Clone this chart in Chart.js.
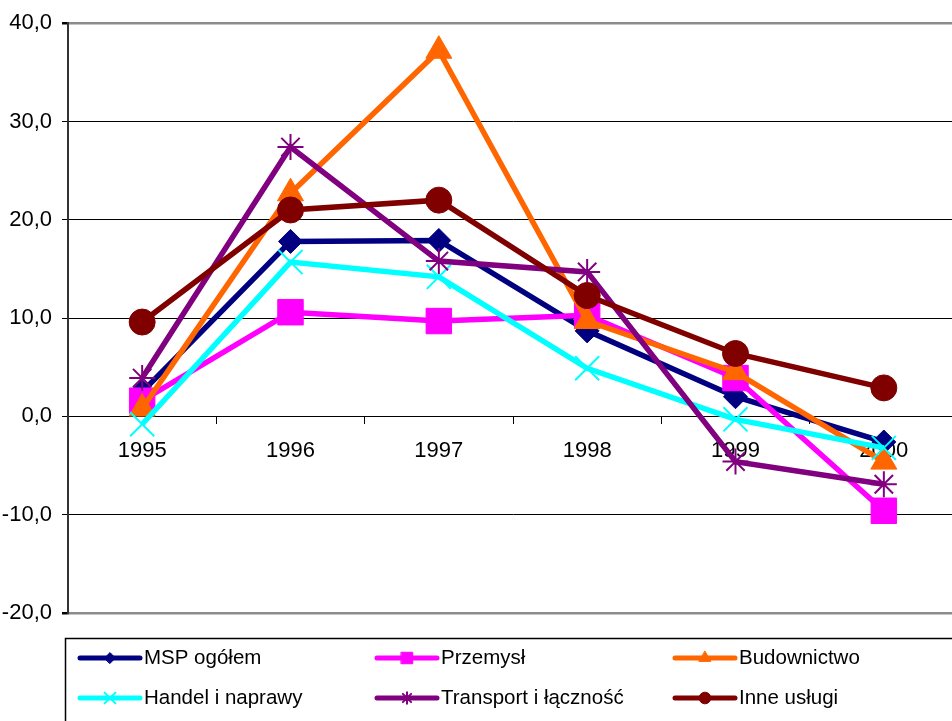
<!DOCTYPE html>
<html>
<head>
<meta charset="utf-8">
<script src="https://cdn.jsdelivr.net/npm/chart.js@4/dist/chart.umd.min.js"></script>
<style>
  html, body { margin: 0; padding: 0; background: #fff; overflow: hidden; }
  #wrap { width: 952px; height: 721px; overflow: hidden; }
</style>
</head>
<body>
<div id="wrap"><canvas id="chart" width="977" height="721"></canvas></div>
<script>
var years = ['1995', '1996', '1997', '1998', '1999', '2000'];
var yTicks = [-20, -10, 0, 10, 20, 30, 40];

var msp = [2.5, 17.8, 17.9, 8.7, 2.0, -2.6];
var przemysl = [1.6, 10.6, 9.7, 10.3, 3.9, -9.6];
var budownictwo = [0.8, 22.7, 37.2, 9.7, 4.5, -4.6];
var handel = [-0.8, 15.7, 14.2, 4.9, -0.3, -3.2];
var transport = [3.9, 27.4, 15.8, 14.7, -4.6, -6.9];
var inne = [9.6, 21.0, 22.0, 12.3, 6.4, 2.9];

var seriesNames = ['MSP ogółem', 'Przemysł', 'Budownictwo', 'Handel i naprawy', 'Transport i łączność', 'Inne usługi'];
var seriesColors = ['#000080', '#FF00FF', '#FF6600', '#00FFFF', '#800080', '#800000'];
var seriesData = [msp, przemysl, budownictwo, handel, transport, inne];
var markers = [
    { style: 'rectRot', r: 12, bw: 1 },
    { style: 'rect', r: 18, bw: 1 },
    { style: 'triangle', r: 15, bw: 1 },
    { style: 'crossRot', r: 17, bw: 2 },
    { style: 'star', r: 13, bw: 2 },
    { style: 'circle', r: 13, bw: 1 }
];

var FONT = "'Liberation Sans', Arial, sans-serif";

function fmt(v) { return v.toFixed(1).replace('.', ','); }

// legend in a box under the plot, 3 columns x 2 rows
var boxLegend = {
    id: 'boxLegend',
    afterDraw: function (chart) {
        var ctx = chart.ctx;
        ctx.save();
        ctx.strokeStyle = '#000';
        ctx.lineWidth = 1.5;
        ctx.strokeRect(65.5, 638.5, 1000, 200);
        var cols = [80, 377, 675];
        var rows = [658, 698];
        chart.data.datasets.forEach(function (ds, i) {
            var x = cols[i % 3], y = rows[Math.floor(i / 3)];
            ctx.strokeStyle = ds.borderColor;
            ctx.lineWidth = 5;
            ctx.lineCap = 'round';
            ctx.beginPath();
            ctx.moveTo(x, y);
            ctx.lineTo(x + 60, y);
            ctx.stroke();
            ctx.fillStyle = ds.borderColor;
            ctx.lineWidth = markers[i].bw;
            Chart.helpers.drawPoint(ctx, { pointStyle: markers[i].style, radius: markers[i].r * 0.45, rotation: 0, borderWidth: markers[i].bw }, x + 30, y);
            ctx.fillStyle = '#000';
            ctx.font = '20.5px ' + FONT;
            ctx.textBaseline = 'middle';
            ctx.textAlign = 'left';
            ctx.fillText(ds.label, x + 64, y);
        });
        ctx.restore();
    }
};

var datasets = seriesNames.map(function (name, i) {
    return {
        label: name,
        data: seriesData[i],
        borderColor: seriesColors[i],
        backgroundColor: seriesColors[i],
        borderWidth: 5.5,
        pointStyle: markers[i].style,
        pointRadius: markers[i].r,
        pointBorderWidth: markers[i].bw,
        pointBackgroundColor: seriesColors[i],
        pointBorderColor: seriesColors[i],
        tension: 0,
        order: seriesNames.length - i
    };
});

new Chart(document.getElementById('chart'), {
    type: 'line',
    data: { labels: years, datasets: datasets },
    options: {
        responsive: false,
        animation: false,
        layout: { padding: { top: 21, bottom: 108, right: 4, left: 0 } },
        plugins: { legend: { display: false }, tooltip: { enabled: false } },
        scales: {
            x: {
                position: { y: 0 },
                offset: true,
                grid: { offset: true, drawOnChartArea: false, drawTicks: true, tickLength: 7, color: '#000' },
                border: { display: true, color: '#000', width: 1 },
                ticks: { color: '#000', font: { family: FONT, size: 22 }, padding: 14, maxRotation: 0 }
            },
            y: {
                min: -20,
                max: 40,
                afterFit: function (scale) { scale.width = 68; },
                afterBuildTicks: function (scale) { scale.ticks = yTicks.map(function (v) { return { value: v }; }); },
                grid: {
                    color: function (c) { return (c.tick && (c.tick.value === 40 || c.tick.value === -20)) ? '#8c8c8c' : '#000'; },
                    lineWidth: function (c) { return (c.tick && (c.tick.value === 40 || c.tick.value === -20)) ? 2.5 : 1; },
                    tickLength: 6,
                    tickColor: '#000'
                },
                border: { display: true, color: '#333', width: 2 },
                ticks: {
                    color: '#000',
                    font: { family: FONT, size: 22 },
                    padding: 10,
                    callback: function (v) { return fmt(v); }
                }
            }
        }
    },
    plugins: [boxLegend]
});
</script>
</body>
</html>
